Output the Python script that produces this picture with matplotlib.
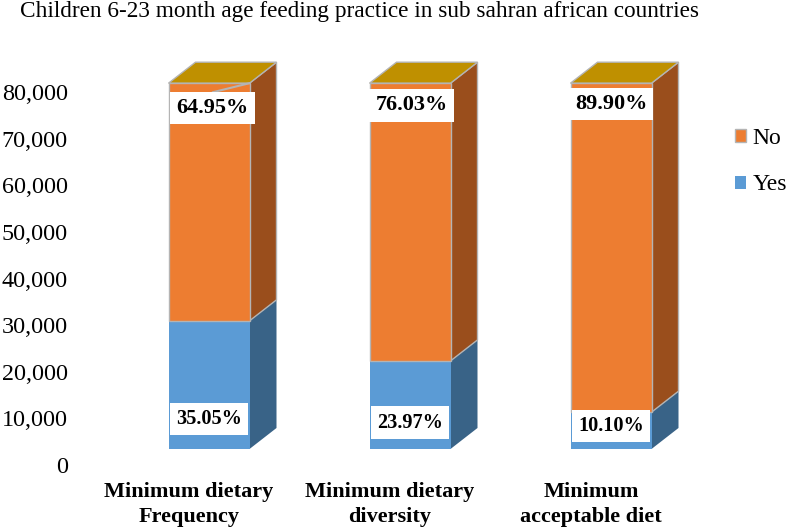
import matplotlib
matplotlib.use('Agg')
import matplotlib.pyplot as plt
from matplotlib.patches import Polygon, Patch

plt.rcParams['font.family'] = ['Liberation Serif', 'DejaVu Serif']

# Values
categories = ['Minimum dietary\nFrequency', 'Minimum dietary\ndiversity', 'Minimum\nacceptable diet']
yes_values = [27500, 18900, 7900]
no_values = [51000, 59600, 70600]
yes_labels = ['35.05%', '23.97%', '10.10%']
no_labels = ['64.95%', '76.03%', '89.90%']
y_ticks = [0, 10000, 20000, 30000, 40000, 50000, 60000, 70000, 80000]

ORANGE = '#ED7D31'
ORANGE_SIDE = '#9A4E1C'
BLUE = '#5B9BD5'
BLUE_SIDE = '#396387'
TOP = '#BF9000'
EDGE = '#B4B4B4'

W, H = 786, 530
# pixels per unit, used for the fake 3D depth
PX_X = 201.0
PX_Y = 46.6 / 10000

floor = 16 / PX_Y
dx = 27 / PX_X
dy = 21 / PX_Y
shift = 20 / PX_X
width = 81 / PX_X

fig = plt.figure(figsize=(W / 100, H / 100), dpi=100)
ax = fig.add_axes([88.5 / W, (H - 465) / H, 603 / W, 420 / H])
ax.set_xlim(-0.5, 2.5)
ax.set_ylim(0, 420 / PX_Y)
ax.patch.set_visible(False)
for s in ax.spines.values():
    s.set_visible(False)


def side(x, y0, y1, color, edge):
    pts = [(x, y0), (x + dx, y0 + dy), (x + dx, y1 + dy), (x, y1)]
    ax.add_patch(Polygon(pts, facecolor=color, edgecolor=edge, linewidth=1.0, clip_on=False, zorder=2))


for i in range(len(categories)):
    c = i + shift
    l = c - width / 2
    r = c + width / 2
    y1 = floor + yes_values[i]
    y2 = y1 + no_values[i]
    side(r, floor, y1, BLUE_SIDE, 'none')
    side(r, y1, y2, ORANGE_SIDE, EDGE)
    top = [(l, y2), (r, y2), (r + dx, y2 + dy), (l + dx, y2 + dy)]
    ax.add_patch(Polygon(top, facecolor=TOP, edgecolor=EDGE, linewidth=1.0, clip_on=False, zorder=2))
    ax.bar(c, yes_values[i], width, bottom=floor, color=BLUE, zorder=3)
    ax.bar(c, no_values[i], width, bottom=y1, color=ORANGE, edgecolor=EDGE, linewidth=1.0, zorder=3)

# data labels, offsets in points from the bar top / floor
no_offsets = [(2.5, -18), (1, -16), (0, -15)]
yes_offsets = [(0, 21.6), (0, 19), (0, 16.5)]
box = dict(facecolor='white', edgecolor='none', pad=4.5)
for i in range(len(categories)):
    c = i + shift
    total = floor + yes_values[i] + no_values[i]
    ax.annotate(no_labels[i], xy=(c, total), xytext=no_offsets[i], textcoords='offset points',
                ha='center', va='center', fontsize=16, fontweight='bold', bbox=box, zorder=6)
    ax.annotate(yes_labels[i], xy=(c, floor), xytext=yes_offsets[i], textcoords='offset points',
                ha='center', va='center', fontsize=14.6, fontweight='bold', bbox=box, zorder=6)

# leader line of the first label
ax.plot([shift + 0.02, shift + width / 2],
        [floor + yes_values[0] + no_values[0] - 1930, floor + yes_values[0] + no_values[0]],
        color=EDGE, linewidth=1.5, zorder=5)

ax.set_yticks(y_ticks)
ax.set_yticklabels(['{:,}'.format(v) for v in y_ticks], fontsize=17.4)
ax.set_xticks(range(len(categories)))
ax.set_xticklabels(categories, fontsize=16, fontweight='bold', linespacing=1.37)
ax.tick_params(axis='y', length=0, pad=14.8)
ax.tick_params(axis='x', length=0, pad=12)

handles = [Patch(facecolor=ORANGE, edgecolor=EDGE, linewidth=1.0, label='No'),
           Patch(facecolor=BLUE, edgecolor='none', label='Yes')]
fig.legend(handles=handles, loc='upper left', bbox_to_anchor=(735 / W, 1 - 128 / H), frameon=False,
           fontsize=17, handlelength=0.47, handleheight=0.47, handletextpad=0.28, labelspacing=1.08,
           borderpad=0, borderaxespad=0)

fig.text(20 / W, 1 - 16.5 / H, 'Children 6-23 month age feeding practice in sub sahran african countries',
         fontsize=16.75, ha='left', va='baseline')

fig.savefig('out.png', dpi=100)
